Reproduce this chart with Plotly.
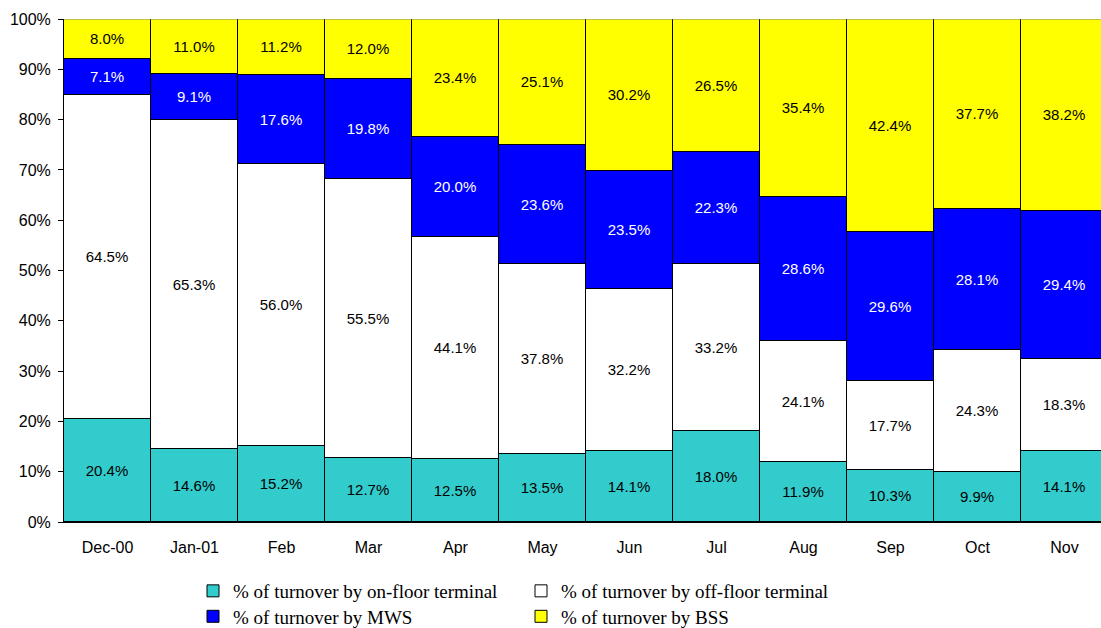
import plotly.graph_objects as go

months = ["Dec-00", "Jan-01", "Feb", "Mar", "Apr", "May", "Jun", "Jul", "Aug", "Sep", "Oct", "Nov"]
on_floor = [20.4, 14.6, 15.2, 12.7, 12.5, 13.5, 14.1, 18.0, 11.9, 10.3, 9.9, 14.1]
off_floor = [64.5, 65.3, 56.0, 55.5, 44.1, 37.8, 32.2, 33.2, 24.1, 17.7, 24.3, 18.3]
mws = [7.1, 9.1, 17.6, 19.8, 20.0, 23.6, 23.5, 22.3, 28.6, 29.6, 28.1, 29.4]
bss = [8.0, 11.0, 11.2, 12.0, 23.4, 25.1, 30.2, 26.5, 35.4, 42.4, 37.7, 38.2]

series = [
    ("% of turnover by on-floor terminal", on_floor, "#33CCCC", "black", "legend"),
    ("% of turnover by off-floor terminal", off_floor, "#FFFFFF", "black", "legend"),
    ("% of turnover by MWS", mws, "#0000FF", "white", "legend2"),
    ("% of turnover by BSS", bss, "#FFFF00", "black", "legend2"),
]

fig = go.Figure()
for name, vals, color, tcol, lg in series:
    fig.add_trace(go.Bar(
        x=list(range(len(months))), y=vals, name=name, legend=lg,
        marker=dict(color=color, line=dict(color="black", width=1)),
        text=[f"{v:.1f}%" for v in vals],
        textposition="inside", insidetextanchor="middle", textangle=0,
        constraintext="none",
        textfont=dict(family="Liberation Sans, Arial", size=15, color=tcol),
        width=1.0, hoverinfo="skip",
    ))

legend_common = dict(
    orientation="h", traceorder="normal", x=0.1244, xanchor="left",
    yanchor="top", entrywidth=283, entrywidthmode="pixels",
    font=dict(family="Liberation Serif, Times New Roman", size=19),
    itemwidth=30, bgcolor="rgba(0,0,0,0)",
)

fig.update_layout(
    barmode="stack", bargap=0,
    width=1101, height=628,
    margin=dict(l=64, r=0, t=19, b=106, autoexpand=False),
    plot_bgcolor="white", paper_bgcolor="white",
    font=dict(family="Liberation Sans, Arial", size=16, color="black"),
    xaxis=dict(
        tickmode="array", tickvals=list(range(len(months))), ticktext=months,
        range=[-0.5, 11.5 - 7 / 87], showline=True, linecolor="black", linewidth=1,
        ticks="", showgrid=False, zeroline=False, ticklabelstandoff=11,
        tickfont=dict(size=16), automargin=False,
    ),
    yaxis=dict(
        range=[0, 100], dtick=10, ticksuffix="%", showline=True, linecolor="black",
        linewidth=1, ticks="outside", ticklen=5, tickcolor="black", showgrid=False,
        zeroline=False, tickfont=dict(size=16), ticklabelstandoff=4, automargin=False,
    ),
    legend=dict(legend_common, y=-0.0994),
    legend2=dict(legend_common, y=-0.150),
    shapes=[dict(type="line", xref="paper", yref="y", x0=0, x1=1, y0=100, y1=100,
                 line=dict(color="#808080", width=1), layer="above")],
)

fig.write_html("out.html", config={"displayModeBar": False},
               post_script="document.body.style.margin='0';")
